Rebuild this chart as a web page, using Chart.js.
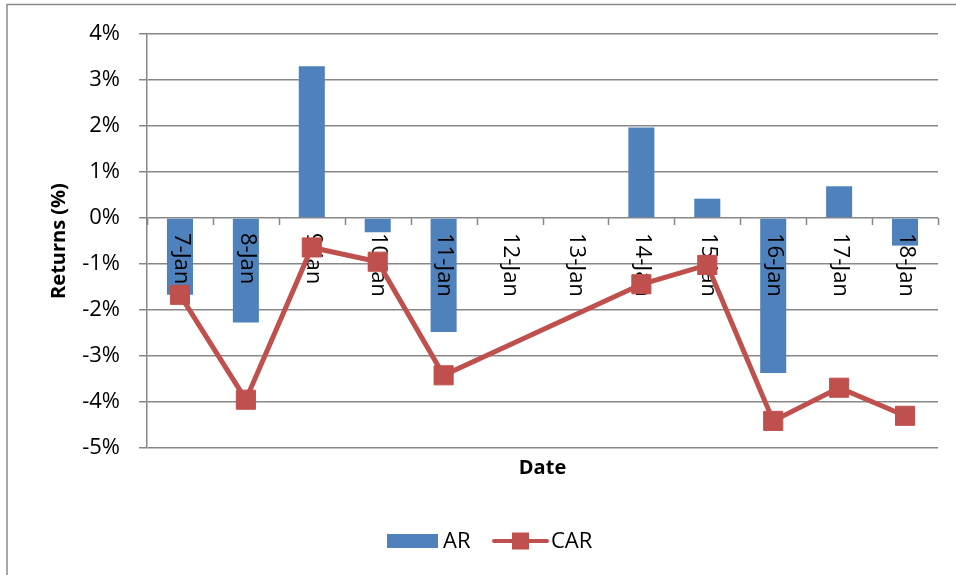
<!DOCTYPE html>
<html>
<head>
<meta charset="utf-8">
<title>AR and CAR by date</title>
<script src="https://cdn.jsdelivr.net/npm/chart.js@4/dist/chart.umd.min.js"></script>
<style>
  html, body { margin: 0; padding: 0; background: #fff; }
  canvas { display: block; }
</style>
</head>
<body>
<canvas id="chart" width="956" height="575"></canvas>
<script>
// Trading days shown on the category axis
const dates = ['7-Jan', '8-Jan', '9-Jan', '10-Jan', '11-Jan', '12-Jan', '13-Jan',
               '14-Jan', '15-Jan', '16-Jan', '17-Jan', '18-Jan'];

// Abnormal returns (%), one per day; no trading on 12-13 Jan
const arValues = [-1.67, -2.27, 3.30, -0.31, -2.48, null, null, 1.97, 0.42, -3.37, 0.69, -0.60];

// Cumulative abnormal returns (%)
const carValues = [-1.67, -3.95, -0.64, -0.95, -3.42, null, null, -1.44, -1.02, -4.41, -3.69, -4.30];

// Value axis ticks (%)
const yTicks = [-5, -4, -3, -2, -1, 0, 1, 2, 3, 4];

const BLUE = '#4F81BD';
const RED = '#C0504D';
const GRID = '#878787';
const FONT = '"Open Sans", Lato, "Liberation Sans", sans-serif';
const TICK_SIZE = 22;

Chart.defaults.font.family = FONT;
Chart.defaults.color = '#000';

// Outer frame of the chart object
const framePlugin = {
  id: 'frame',
  beforeDraw(chart) {
    const ctx = chart.ctx;
    ctx.save();
    ctx.strokeStyle = '#8a8a8a';
    ctx.lineWidth = 1.5;
    ctx.beginPath();
    ctx.moveTo(7, chart.height + 2);
    ctx.lineTo(7, 4.5);
    ctx.lineTo(chart.width + 2, 4.5);
    ctx.stroke();
    ctx.restore();
  }
};

// Category axis drawn along the zero line: tick marks between days
// and labels rotated to read downward, under the CAR line.
const zeroAxisPlugin = {
  id: 'zeroAxis',
  beforeDatasetDraw(chart, args) {
    if (args.index !== 1) return;
    const ctx = chart.ctx;
    const x = chart.scales.x;
    const y = chart.scales.y;
    const zero = y.getPixelForValue(0);
    const area = chart.chartArea;
    ctx.save();
    ctx.strokeStyle = GRID;
    ctx.lineWidth = 1.5;
    ctx.beginPath();
    for (let i = 0; i <= dates.length; i++) {
      let px;
      if (i === 0) px = area.left;
      else if (i === dates.length) px = area.right;
      else px = (x.getPixelForValue(i - 1) + x.getPixelForValue(i)) / 2;
      px = Math.round(px) + 0.5;
      ctx.moveTo(px, zero);
      ctx.lineTo(px, zero + 7);
    }
    ctx.stroke();
    ctx.fillStyle = '#000';
    ctx.font = TICK_SIZE + 'px ' + FONT;
    ctx.textAlign = 'left';
    ctx.textBaseline = 'middle';
    dates.forEach((d, i) => {
      ctx.save();
      ctx.translate(x.getPixelForValue(i) + 1, zero + 15);
      ctx.rotate(Math.PI / 2);
      ctx.fillText(d, 0, 0);
      ctx.restore();
    });
    ctx.restore();
  }
};

// Legend below the axis title: filled box for AR, line with marker for CAR
const legendPlugin = {
  id: 'legendRow',
  afterDraw(chart) {
    const ctx = chart.ctx;
    const cy = 541;
    const sets = chart.data.datasets;
    ctx.save();
    ctx.font = TICK_SIZE + 'px ' + FONT;
    ctx.textBaseline = 'middle';
    ctx.textAlign = 'left';
    ctx.fillStyle = sets[0].backgroundColor;
    ctx.fillRect(387, cy - 7, 51, 14);
    ctx.fillStyle = '#000';
    ctx.fillText(sets[0].label, 443, cy + 1);
    ctx.strokeStyle = sets[1].borderColor;
    ctx.lineWidth = 4;
    ctx.lineCap = 'round';
    ctx.beginPath();
    ctx.moveTo(494, cy);
    ctx.lineTo(547, cy);
    ctx.stroke();
    ctx.fillStyle = sets[1].pointBackgroundColor;
    ctx.fillRect(512, cy - 8.5, 17, 17);
    ctx.fillStyle = '#000';
    ctx.fillText(sets[1].label, 551, cy + 1);
    ctx.restore();
  }
};

new Chart(document.getElementById('chart'), {
  data: {
    labels: dates,
    datasets: [
      {
        type: 'bar',
        label: 'AR',
        data: arValues,
        backgroundColor: BLUE,
        borderWidth: 0,
        barPercentage: 0.395,
        categoryPercentage: 1,
        order: 1
      },
      {
        type: 'line',
        label: 'CAR',
        data: carValues,
        spanGaps: true,
        borderColor: RED,
        borderWidth: 5,
        tension: 0,
        pointStyle: 'rect',
        pointRadius: 13.5,
        pointHoverRadius: 13.5,
        pointBackgroundColor: RED,
        pointBorderColor: RED,
        pointBorderWidth: 1,
        order: 0
      }
    ]
  },
  options: {
    responsive: false,
    animation: false,
    events: [],
    layout: { padding: { top: 34, right: 18, bottom: 95, left: 0 } },
    plugins: {
      legend: { display: false },
      tooltip: { enabled: false }
    },
    scales: {
      x: {
        type: 'category',
        offset: true,
        grid: { display: false },
        border: { display: false },
        ticks: { display: false },
        title: {
          display: true,
          text: 'Date',
          font: { size: 20, weight: 'bold' },
          padding: { top: 0, bottom: 0 }
        }
      },
      y: {
        min: yTicks[0],
        max: yTicks[yTicks.length - 1],
        afterBuildTicks(scale) {
          scale.ticks = yTicks.map(v => ({ value: v }));
        },
        afterFit(scale) { scale.width = 147; },
        ticks: {
          padding: 19,
          font: { size: TICK_SIZE },
          callback: v => v + '%'
        },
        grid: {
          color: GRID,
          lineWidth: 1.5,
          tickLength: 8,
          drawTicks: true
        },
        border: { display: true, color: GRID, width: 1.5 },
        title: {
          display: true,
          text: 'Returns (%)',
          font: { size: 20, weight: 'bold' },
          padding: { top: 47, bottom: 0 }
        }
      }
    }
  },
  plugins: [framePlugin, zeroAxisPlugin, legendPlugin]
});
</script>
</body>
</html>
